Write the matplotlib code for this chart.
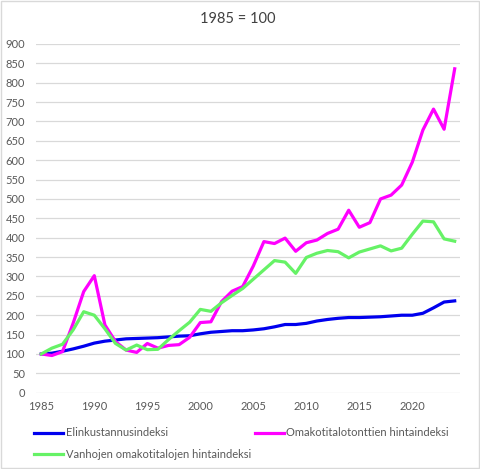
import matplotlib
matplotlib.use("Agg")
import matplotlib.pyplot as plt
from matplotlib.patches import Rectangle

years = list(range(1985, 2025))

elinkustannus = [100, 102, 107, 113, 120, 128, 133, 136, 139, 140,
                 141, 142, 144, 146, 147, 152, 156, 158, 160, 160,
                 162, 165, 170, 176, 176, 179, 185, 189, 192, 194,
                 194, 195, 196, 198, 200, 200, 205, 219, 234, 237]

tontit = [100, 96, 106, 179, 261, 302, 175, 132, 110, 104,
          127, 115, 122, 124, 143, 181, 183, 235, 262, 274,
          327, 390, 385, 399, 365, 387, 394, 411, 422, 471,
          427, 439, 500, 510, 536, 595, 678, 732, 680, 836]

vanhat = [100, 115, 125, 162, 209, 200, 165, 127, 110, 123,
          111, 112, 137, 160, 182, 215, 210, 232, 251, 269,
          293, 317, 341, 337, 308, 349, 360, 367, 364, 348,
          363, 371, 379, 366, 373, 409, 443, 441, 397, 391]

labels = ["Elinkustannusindeksi",
          "Omakotitalotonttien hintaindeksi",
          "Vanhojen omakotitalojen hintaindeksi"]
colors = ["#0000EE", "#FF00FF", "#66F266"]

plt.rcParams['font.family'] = ['Lato', 'DejaVu Sans']

fig = plt.figure(figsize=(4.8, 4.69), dpi=100)
ax = fig.add_axes([36/480, 1-392.7/469, 424/480, (392.7-44)/469])

l1, = ax.plot(years, elinkustannus, color=colors[0], lw=2.3, label=labels[0], zorder=3)
l2, = ax.plot(years, tontit, color=colors[1], lw=2.3, label=labels[1], zorder=3)
l3, = ax.plot(years, vanhat, color=colors[2], lw=2.3, label=labels[2], zorder=3)

ax.set_xlim(1984.5, 2024.5)
ax.set_ylim(0, 900)
ax.set_yticks(range(0, 901, 50))
ax.set_xticks(range(1985, 2021, 5))
ax.grid(axis='y', color='#D9D9D9', lw=0.9)
ax.set_axisbelow(True)
for s in ax.spines.values():
    s.set_visible(False)
ax.tick_params(length=0, labelsize=8, labelcolor='#595959')
ax.tick_params(axis='y', pad=8)
ax.tick_params(axis='x', pad=6)

fig.text(0.495, 1-19/469, "1985 = 100", ha='center', va='center', fontsize=10.5, color='#404040')

leg = fig.legend([l1, l3, l2], [labels[0], labels[2], labels[1]], ncol=2,
                 loc='upper left', bbox_to_anchor=(30/480, 1-423/469),
                 frameon=False, fontsize=8, handlelength=2.6, handletextpad=0.2,
                 columnspacing=0.4, labelspacing=0.95, borderaxespad=0)
for t in leg.get_texts():
    t.set_color('#595959')

fig.patches.append(Rectangle((0.002, 0.002), 0.995, 0.995, transform=fig.transFigure,
                             fill=False, edgecolor='#D9D9D9', lw=1))

fig.savefig("out.png", dpi=100)
